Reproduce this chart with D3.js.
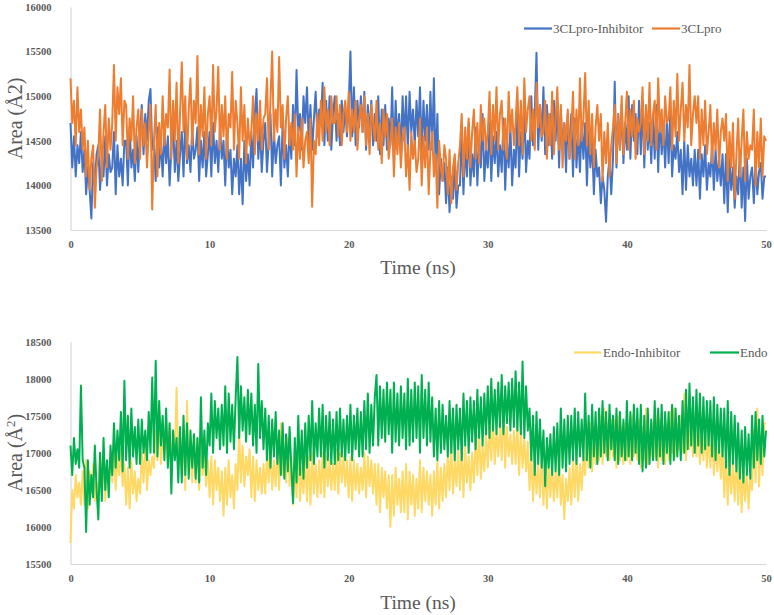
<!DOCTYPE html>
<html><head><meta charset="utf-8">
<script src="https://cdn.jsdelivr.net/npm/d3@7"></script>
<style>body{margin:0;background:#fff}svg{display:block}</style>
</head><body>
<svg id="c" width="774" height="615"></svg>
<script>
// Time grid: one sample every 0.125 ns, 0..50 ns
const timeStep = 0.125;
const xTicks = [0, 10, 20, 30, 40, 50];
const topYTicks = [13500, 14000, 14500, 15000, 15500, 16000];
const botYTicks = [15500, 16000, 16500, 17000, 17500, 18000, 18500];

const series3CLproInhibitor = [
14700,14200,14550,14100,14450,14250,14600,14150, 14400,13900,14200,13950,13630,14250,14000,14350,
14450,13950,14300,14100,14550,14000,14350,14150, 14200,14600,13900,14450,14100,14300,14000,14500,
14500,14000,14650,14200,14400,14050,14550,14150, 14600,14900,14350,14800,14500,14950,15080,14400,
14450,14050,14650,14200,14500,14100,14600,14250, 14550,14000,14400,14700,14150,14500,14050,14350,
14600,14100,14750,14250,14450,14150,14650,14300, 14400,14650,14050,14500,14200,14600,14100,14350,
14600,14100,14700,14250,14500,14150,14650,14300, 14500,14000,14600,14200,14400,13900,14300,14100,
14450,13900,14300,13790,14500,14050,14350,14000, 14600,14200,14800,15080,14300,14650,14150,14500,
14700,14150,14500,14800,14100,14600,14250,14450, 14550,14000,14700,14200,14450,14100,14650,14300,
14900,14450,15294,14600,14800,14400,15000,14700, 15100,14500,14900,14400,14750,15050,14550,14850,
14700,15150,14450,14950,14500,15000,14400,14800, 15000,14500,14800,14450,14950,14600,14900,14550,
14900,15500,14550,15100,14450,14950,14650,15000, 14600,15050,14400,14900,14550,14950,14450,14800,
14500,15000,14350,14850,14450,14900,14400,14750, 14450,15100,14300,14950,14500,14800,14350,15000,
14500,15000,14400,15050,14600,14850,14450,14950, 14550,15100,14350,14950,14500,14900,14400,15050,
14400,15200,14150,14800,13900,14300,14050,14250, 13800,14200,13700,14100,13850,14250,13750,14000,
14000,14600,13900,14450,14100,14700,14000,14350, 14100,14650,14000,14500,14200,14800,14050,14400,
14200,14700,14050,14550,14250,14600,14100,14450, 14150,14750,13950,14500,14200,14650,14000,14400,
14200,14850,14100,14600,14300,14900,14150,14500, 14300,15000,14450,14800,15488,14400,14900,14500,
15100,14350,14900,14450,14800,14300,14950,14500, 14950,14200,14850,14400,14700,14150,14800,14300,
14800,14100,14750,14200,14600,14150,14700,14300, 14700,14000,14600,14200,14500,13900,14400,14100,
14200,13800,14100,13950,13593,14100,14300,13900, 14300,15162,14200,14800,14400,14900,14250,14700,
14400,15000,14300,14900,14500,14800,14350,14950, 14350,14950,14200,14850,14400,14700,14250,14800,
14300,14900,14150,14800,14350,14650,14200,14750, 14250,14850,14100,14450,14300,14600,14150,14400,
13900,14500,13950,14450,14100,14300,14000,14400, 14000,14400,13850,14350,14100,14450,13950,14250,
14100,14450,13950,14400,14050,14300,14000,14350, 13800,14350,13700,14300,13950,14200,13750,14100,
13900,14400,13750,14200,13600,14300,13850,14100, 14200,13800,14300,13900,14150,14250,13850,14100,
14100];

const series3CLpro = [
15200,14700,14950,14450,15100,14600,14850,14400, 14650,14100,14500,13950,14300,14450,13750,14200,
14350,14850,14050,14600,14900,14200,14750,14400, 14700,15350,14500,15100,14800,15200,14450,14950,
14900,14300,14750,14500,15000,14250,14650,14850, 14300,14850,14450,14700,14200,14600,14900,13730,
14500,14900,14100,14700,14350,15000,14450,14800, 14650,15300,14300,14950,14500,15150,14250,14800,
15380,14600,15000,14300,14850,15200,14450,14950, 14700,15450,14350,14900,14550,15100,14300,14800,
15000,14450,15350,14600,14850,15330,14400,14900, 14550,15000,14300,14800,14650,15270,14400,14950,
14700,14300,15100,14500,14900,14250,14750,14450, 14600,15000,14350,14800,14500,14950,14400,14750,
14800,15200,14400,14950,15500,14500,14850,14600, 15440,14650,14900,14300,14750,15000,14450,14700,
14400,14800,14100,14650,14300,14750,14200,14500, 14600,14250,14750,13760,14500,14350,14800,14450,
14950,14500,15100,14600,14850,14450,15000,14700, 14700,15000,14550,14900,14450,14800,14950,14600,
15050,14500,14850,14600,14950,14400,14750,14900, 14600,15000,14450,14800,14350,14900,14700,14500,
14950,14400,14700,14250,14850,14550,14800,14300, 14500,14750,14100,14650,14350,14700,14200,14550,
14650,14100,14450,13950,14600,14300,14500,14150, 14300,14750,14000,14550,14200,14650,13900,14400,
14600,14100,14350,13750,14500,14200,14050,14450, 14300,13900,14400,13800,14200,14350,13950,14250,
14450,14800,14100,14650,14300,14750,14200,14600, 14850,14300,14700,14250,14900,14500,14750,14400,
14600,15050,14350,14900,14500,15100,14400,14800, 14950,14400,14750,14300,15050,14600,14850,14450,
14700,15100,14450,14950,14350,15200,14600,14850, 15000,14500,14850,14400,15150,14650,14900,14550,
14600,14950,14300,14800,14450,15050,14350,14750, 15100,14400,14900,14200,14700,14500,14850,14300,
14600,15050,14300,14850,14450,15200,14500,14750, 15260,14450,14950,14350,14800,14200,14650,14900,
14500,14800,14050,14600,14250,14700,14100,14450, 14650,14900,14250,14800,14400,15000,14350,14700,
15050,14400,14850,14550,14950,14300,14750,14600, 14700,15100,14350,14900,14500,15150,14450,14800,
14950,14400,15200,14600,14850,14450,15000,14700, 14750,15100,14400,14950,14550,15250,14500,14850,
15150,14500,14900,14650,15350,14450,14800,15000, 14700,15000,14300,14850,14450,14950,14350,14600,
14900,14250,14700,14400,14850,14200,14600,14750, 14500,14800,14050,14600,14200,14700,13850,14350,
14750,14100,14500,14850,14050,14600,14300,14450, 14400,14850,14000,14600,14200,14750,14100,14550,
14500];

const seriesEndoInhibitor = [
15784,16500,16250,16700,16400,16600,16300,16750, 16300,16900,16250,16750,16450,16850,16350,16600,
16400,17000,16500,16900,16350,16800,16600,16950, 16600,17100,16500,16950,16700,17050,16550,16850,
16300,16800,16250,16900,16450,16750,16350,16650, 16450,17000,16600,17100,16500,16900,16700,16950,
16800,17300,16900,17500,16850,17200,17000,17350, 16850,17400,16800,17300,16950,17878,16900,17250,
16700,17300,16500,17700,16800,17150,16600,17250, 16600,17200,16500,17100,16700,17000,16550,16900,
16400,16950,16300,16900,16500,16800,16350,16750, 16150,16800,16300,16900,16400,16700,16250,16850,
16500,17300,16600,17100,16550,16950,16700,17050, 16400,16950,16350,16900,16500,16800,16450,16850,
16450,17000,16600,17100,16500,16900,16550,17050, 16500,17400,16700,17000,16600,17200,16550,16950,
16300,16900,16400,17000,16350,16800,16450,16950, 16350,16950,16300,17000,16450,16850,16400,16900,
16450,17000,16400,16950,16550,16900,16500,16850, 16500,17050,16450,17000,16600,16950,16550,16900,
16400,16950,16350,16900,16500,16850,16450,16800, 16500,17000,16400,16950,16550,16900,16450,16850,
16300,16850,16200,16800,16400,16750,16250,16700, 16004,16700,16150,16800,16300,16650,16200,16750,
16200,16850,16100,16750,16300,16700,16150,16650, 16250,16900,16200,16800,16350,16750,16300,16700,
16150,16750,16300,16900,16250,16800,16350,16850, 16400,17000,16500,17100,16450,16900,16550,17050,
16500,17050,16400,17100,16600,16950,16500,17000, 16600,17200,16700,17300,16650,17100,16750,17250,
16800,17400,16900,17450,16850,17300,16950,17350, 16900,17700,16800,17350,16950,17250,16850,17300,
16850,17400,16700,17300,16800,17200,16750,17150, 16500,17000,16350,16900,16450,16850,16400,16950,
16300,16850,16250,16900,16400,16800,16350,16750, 16400,16950,16300,16700,16108,16650,16350,16800,
16300,16900,16400,17000,16350,16850,16500,16950, 16700,17300,16800,17400,16750,17200,16850,17350,
16900,17500,16850,17600,16950,17400,16900,17450, 16950,17450,16800,17500,16900,17350,16850,17400,
16900,17400,16850,17500,16950,17300,16900,17450, 16800,17350,16900,17600,16850,17250,16950,17400,
16950,17500,16800,17450,16900,17350,16850,17400, 16900,17550,17000,17600,16950,17400,17050,17500,
17000,17800,16900,17500,17050,17400,16950,17450, 16950,17400,16850,17350,16900,17300,16800,17250,
16800,17300,16700,17200,16750,17150,16650,17100, 16400,17000,16300,16900,16450,16850,16350,16950,
16300,16900,16200,16800,16350,16750,16250,16700, 16500,17300,16600,17600,16550,17200,16700,17400,
17400];

const seriesEndo = [
17100,16700,17200,16850,17050,16800,17909,16900, 16800,15932,16900,16300,16700,16400,17100,16500,
16100,17000,16350,17200,16500,16900,16400,17100, 16700,17400,16800,17300,16900,17550,16750,17973,
16900,17500,16800,17600,16950,17350,16850,17450, 16850,17450,17000,17300,16900,17550,17000,18017,
17000,18243,16950,17700,17100,17500,16900,17600, 16800,17400,16450,17300,16900,17200,16600,17350,
16600,17500,16700,17400,16650,17300,16800,17250, 16650,17200,16600,17750,16800,17300,16700,17400,
17100,17800,17000,17700,17200,17600,17050,17650, 17100,17900,17000,17800,17150,17650,17050,17750,
18292,17200,17900,17300,17750,17150,17850,17250, 17800,17100,17650,17000,18200,17200,17700,17050,
17600,16900,17500,16800,17450,16950,17550,16850, 17300,16700,17400,16650,17250,16750,17350,16800,
16324,17200,16600,17500,16700,17300,16650,17400, 16800,17500,16900,17700,16850,17400,16950,17600,
16950,17650,16800,17500,16900,17550,16850,17450, 16850,17550,16900,17600,16950,17450,16900,17500,
17000,17650,16900,17500,17050,17600,16950,17550, 16950,17700,17050,17800,17000,17650,17100,17750,
18050,17100,17900,17200,17850,17150,17950,17250, 17850,17000,17950,17150,17800,17100,17900,17200,
17800,17050,18000,17100,17850,17150,17950,17200, 17900,17000,18050,17200,17850,17100,17950,17150,
17750,16950,17600,16900,17700,17000,17650,17050, 17500,16950,17700,17000,17600,16900,17650,17050,
17600,16900,17800,17100,17700,17000,17750,17150, 17700,17050,17850,17200,17750,17100,17800,17250,
17900,17200,18000,17300,17850,17250,17950,17350, 18050,17250,17900,17400,17950,17300,18000,17350,
18100,17300,17950,17250,18233,17200,17900,17300, 17600,16900,17500,16700,17550,16850,17450,16800,
17300,16550,17200,16800,17250,16700,17350,16750, 17400,16700,17600,16800,17450,16750,17500,16850,
17500,16900,17600,16850,17550,16950,17450,16900, 17800,16900,17500,16800,17650,16950,17550,16850,
17600,16950,17700,17000,17550,16900,17650,17050, 17500,16900,17600,16850,17550,16950,17450,16900,
17700,16950,17550,16900,17650,17000,17600,16850, 17650,16750,17500,16800,17600,16850,17450,16900,
17700,16900,17600,16950,17650,16850,17550,17000, 17550,16850,17650,16900,17600,16950,17500,16900,
17700,17000,17850,17050,17935,17100,17750,17000, 17850,17100,17800,17000,17750,17050,17700,17100,
17700,16950,17750,16900,17650,17000,17600,16950, 17600,16800,17700,16700,17550,16850,17500,16750,
17400,16650,17300,16600,17350,16700,17250,16650, 17500,16800,17550,16900,17450,16850,17500,16950,
17300];

const FONT = '"Liberation Serif","Times New Roman",serif';
const GREY = '#595959';
const svg = d3.select('#c');

function panel(cfg) {
  const x = d3.scaleLinear().domain([0, 50]).range([70.5, 766]);
  const y = d3.scaleLinear().domain(cfg.yDomain).range(cfg.yRange);
  const g = svg.append('g');

  const xa = g.append('g').attr('transform', `translate(0,${cfg.yRange[0]})`)
    .call(d3.axisBottom(x).tickValues(xTicks).tickSize(0).tickPadding(11).tickFormat(d3.format('d')));
  const ya = g.append('g').attr('transform', `translate(70.5,0)`)
    .call(d3.axisLeft(y).tickValues(cfg.yTicks).tickSize(0).tickPadding(19).tickFormat(d3.format('d')));
  [xa, ya].forEach(a => {
    a.select('.domain').attr('stroke', '#d9d9d9').attr('stroke-width', 1.2);
    a.selectAll('text').attr('font-family', FONT).attr('font-weight', 'bold')
      .attr('font-size', 10.5).attr('fill', GREY);
  });

  const line = d3.line().x((d, i) => x(i * timeStep)).y(d => y(d));
  cfg.series.forEach(s => {
    g.append('path').datum(s.data).attr('d', line).attr('fill', 'none')
      .attr('stroke', s.color).attr('stroke-width', 2).attr('stroke-linejoin', 'round');
  });

  g.append('text').attr('x', 418).attr('y', cfg.xTitleY).attr('text-anchor', 'middle')
    .attr('font-family', FONT).attr('font-size', 19.5).attr('fill', GREY).text('Time (ns)');
  const yt = g.append('text')
    .attr('transform', `translate(22,${(cfg.yRange[0] + cfg.yRange[1]) / 2}) rotate(-90)`)
    .attr('text-anchor', 'middle').attr('font-family', FONT).attr('font-size', 20).attr('fill', GREY);
  yt.append('tspan').text('Area (Å');
  if (cfg.superscript) {
    yt.append('tspan').attr('font-size', 13).attr('dy', -7).text('2');
    yt.append('tspan').attr('dy', 7).text(')');
  } else {
    yt.append('tspan').text('2)');
  }

  cfg.legend.forEach(l => {
    g.append('line').attr('x1', l.x1).attr('x2', l.x2).attr('y1', cfg.legY).attr('y2', cfg.legY)
      .attr('stroke', l.color).attr('stroke-width', 2.2);
    g.append('text').attr('x', l.tx).attr('y', cfg.legY).attr('dy', '0.35em')
      .attr('font-family', FONT).attr('font-size', 13).attr('fill', GREY).text(l.label);
  });
}

panel({
  yDomain: [13500, 16000], yRange: [230, 7], yTicks: topYTicks, xTitleY: 274,
  series: [{data: series3CLproInhibitor, color: '#4472C4'}, {data: series3CLpro, color: '#ED7D31'}],
  legY: 28.5, superscript: false,
  legend: [
    {x1: 524, x2: 552, tx: 553, color: '#4472C4', label: '3CLpro-Inhibitor'},
    {x1: 652, x2: 680, tx: 681, color: '#ED7D31', label: '3CLpro'}
  ]
});
panel({
  yDomain: [15500, 18500], yRange: [564, 341.7], yTicks: botYTicks, xTitleY: 609,
  series: [{data: seriesEndoInhibitor, color: '#FFD966'}, {data: seriesEndo, color: '#00B050'}],
  legY: 352.5, superscript: true,
  legend: [
    {x1: 574, x2: 601, tx: 603, color: '#FFD966', label: 'Endo-Inhibitor'},
    {x1: 710, x2: 739, tx: 740, color: '#00B050', label: 'Endo'}
  ]
});
</script>
</body></html>
